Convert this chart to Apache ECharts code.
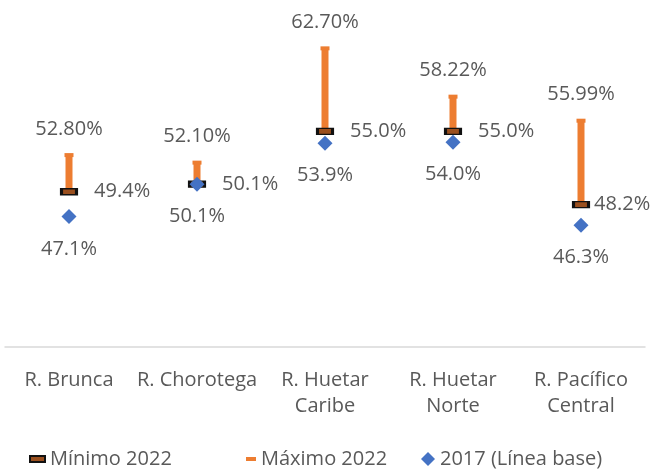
<!DOCTYPE html>
<html>
<head>
<meta charset="utf-8">
<script src="https://cdn.jsdelivr.net/npm/echarts@6/dist/echarts.min.js"></script>
<style>
  html, body { margin: 0; padding: 0; background: #fff; }
  #chart { width: 653px; height: 474px; }
</style>
</head>
<body>
<div id="chart"></div>
<script>
const regions = ['R. Brunca', 'R. Chorotega', 'R. Huetar\nCaribe', 'R. Huetar\nNorte', 'R. Pacífico\nCentral'];
const min2022 = [49.4, 50.1, 55.0, 55.0, 48.2];
const max2022 = [52.80, 52.10, 62.70, 58.22, 55.99];
const base2017 = [47.1, 50.1, 53.9, 54.0, 46.3];

const textColor = '#595959';
const fs = 20;

const chart = echarts.init(document.getElementById('chart'));

const legendText = { color: textColor, fontSize: fs, fontFamily: 'Open Sans' };

// last min label sits closer to its marker so it stays inside the frame
const minData = min2022.map((v, i) => i === min2022.length - 1
    ? { value: v, label: { distance: 4 } }
    : v);

chart.setOption({
    animation: false,
    textStyle: { fontFamily: 'Open Sans' },
    grid: { left: 5, right: 8, top: 2, bottom: 127 },
    xAxis: {
        type: 'category',
        data: regions,
        axisLine: { lineStyle: { color: '#d9d9d9', width: 1.5 } },
        axisTick: { show: false },
        axisLabel: { color: textColor, fontSize: fs, lineHeight: 26, margin: 20, interval: 0 }
    },
    yAxis: { type: 'value', min: 35, max: 67, show: false, splitLine: { show: false } },
    legend: [
        { data: ['Mínimo 2022'], left: 29, top: 449, itemWidth: 15, itemHeight: 6,
          textStyle: legendText, padding: [0, 0] },
        { data: ['Máximo 2022'], left: 246, top: 449, itemWidth: 10, itemHeight: 4,
          textStyle: legendText, padding: [0, 0] },
        { data: ['2017 (Línea base)'], left: 421, top: 449, itemWidth: 14, itemHeight: 14,
          textStyle: legendText, padding: [0, 0] }
    ],
    series: [
        {
            name: 'rango',
            type: 'custom',
            data: regions.map((r, i) => [i, min2022[i], max2022[i]]),
            renderItem: (params, api) => {
                const lo = api.coord([api.value(0), api.value(1)]);
                const hi = api.coord([api.value(0), api.value(2)]);
                return {
                    type: 'rect',
                    shape: { x: lo[0] - 3.5, y: hi[1], width: 7, height: lo[1] - hi[1] },
                    style: { fill: '#ED7D31' }
                };
            },
            z: 1
        },
        {
            name: 'Máximo 2022',
            type: 'scatter',
            data: max2022,
            symbol: 'rect',
            symbolSize: [9, 4],
            itemStyle: { color: '#ED7D31', opacity: 1 },
            label: { show: true, position: 'top', distance: 14, color: textColor, fontSize: fs,
                     formatter: p => p.value.toFixed(2) + '%' },
            z: 2
        },
        {
            name: 'Mínimo 2022',
            type: 'scatter',
            data: minData,
            symbol: 'rect',
            symbolSize: [15, 6],
            itemStyle: { color: '#9a4f1e', borderColor: '#111111', borderWidth: 2, opacity: 1 },
            label: { show: true, position: 'right', distance: 16, color: textColor, fontSize: fs,
                     formatter: p => p.value.toFixed(1) + '%' },
            z: 3
        },
        {
            name: '2017 (Línea base)',
            type: 'scatter',
            data: base2017,
            symbol: 'diamond',
            symbolSize: 15,
            itemStyle: { color: '#4472C4', opacity: 1 },
            label: { show: true, position: 'bottom', distance: 15, color: textColor, fontSize: fs,
                     formatter: p => p.value.toFixed(1) + '%' },
            z: 4
        }
    ]
});
</script>
</body>
</html>
